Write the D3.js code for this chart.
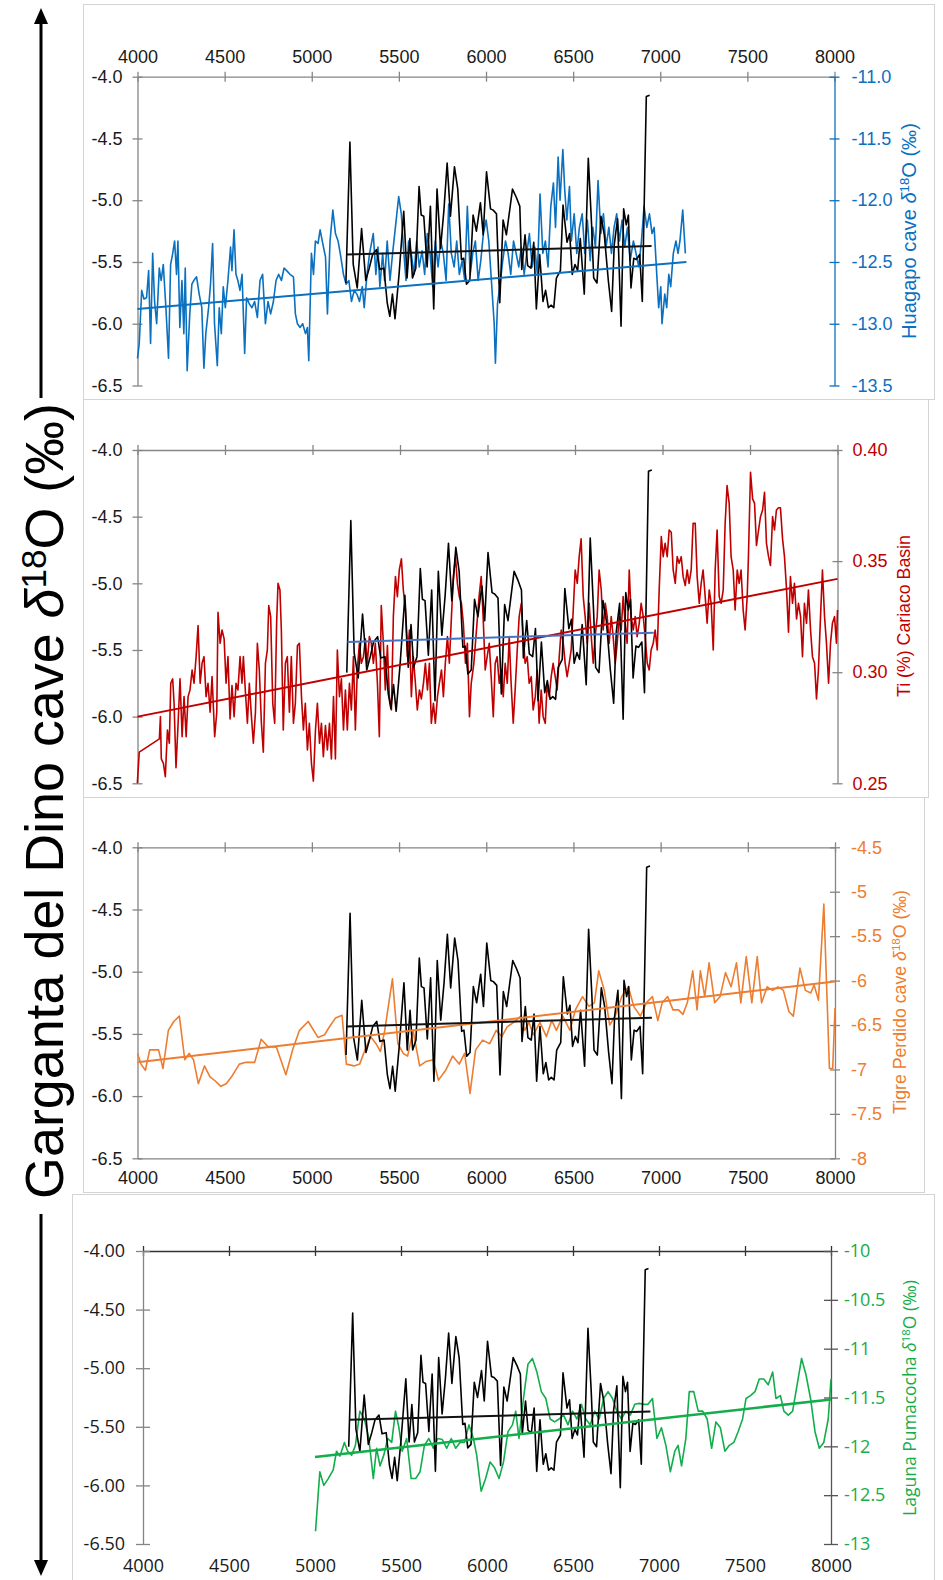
<!DOCTYPE html>
<html lang="en">
<head>
<meta charset="utf-8">
<script src="https://cdn.jsdelivr.net/npm/d3@7"></script>
<title>Garganta del Dino vs regional records</title>
<style>
  body { margin: 0; background: #fff; }
</style>
</head>
<body>
<div id="chart"></div>
<script>

// ---- axis ticks ----
const xTicks = [4000, 4500, 5000, 5500, 6000, 6500, 7000, 7500, 8000];
const leftTicks = [-4.0, -4.5, -5.0, -5.5, -6.0, -6.5];
const huagapoTicks = [-11.0, -11.5, -12.0, -12.5, -13.0, -13.5];
const cariacoTicks = [0.40, 0.35, 0.30, 0.25];
const tigreTicks = [-4.5, -5, -5.5, -6, -6.5, -7, -7.5, -8];
const pumacochaTicks = [-10, -10.5, -11, -11.5, -12, -12.5, -13];

// ---- Garganta del Dino cave d18O (yr BP, permil) ----
const garganta = [[5196,-5.67],[5219,-4.53],[5238,-5.52],[5261,-5.71],[5286,-5.23],[5310,-5.65],[5330,-5.55],[5349,-5.44],[5372,-5.40],[5390,-5.56],[5414,-5.55],[5433,-5.83],[5448,-5.94],[5463,-5.76],[5478,-5.96],[5501,-5.60],[5528,-5.09],[5547,-5.63],[5563,-5.31],[5578,-5.63],[5597,-5.55],[5616,-4.89],[5628,-5.12],[5643,-5.13],[5662,-5.54],[5681,-5.05],[5700,-5.88],[5719,-4.91],[5739,-5.39],[5758,-5.09],[5777,-4.70],[5796,-5.13],[5819,-4.73],[5838,-4.91],[5859,-5.48],[5872,-5.47],[5888,-5.68],[5907,-5.65],[5926,-5.12],[5945,-5.25],[5968,-5.02],[5984,-5.28],[6003,-4.77],[6026,-5.07],[6041,-5.08],[6060,-5.11],[6079,-5.83],[6098,-5.16],[6117,-5.28],[6152,-4.91],[6175,-4.98],[6194,-5.05],[6205,-5.56],[6224,-5.28],[6239,-5.53],[6258,-5.55],[6274,-5.34],[6289,-5.88],[6308,-5.44],[6327,-5.82],[6342,-5.73],[6358,-5.87],[6373,-5.85],[6389,-5.87],[6404,-5.63],[6427,-5.57],[6442,-5.04],[6465,-5.34],[6480,-5.27],[6495,-5.60],[6511,-5.52],[6526,-5.57],[6541,-5.31],[6564,-5.76],[6587,-4.66],[6606,-5.20],[6618,-5.63],[6637,-5.67],[6660,-5.13],[6679,-5.28],[6702,-5.65],[6721,-5.90],[6736,-5.36],[6755,-5.15],[6775,-6.02],[6790,-5.07],[6805,-5.20],[6817,-5.12],[6832,-5.71],[6848,-5.47],[6863,-5.48],[6882,-5.44],[6897,-5.82],[6920,-4.16],[6939,-4.15]];
const gargantaTrend = [[5200,-5.44],[6950,-5.37]];

// ---- Huagapo cave d18O ----
const huagapo = [[4000,-13.28],[4010,-13.16],[4024,-12.73],[4037,-12.80],[4052,-12.79],[4064,-12.57],[4075,-13.16],[4087,-12.43],[4098,-12.82],[4110,-13.00],[4125,-12.55],[4136,-12.65],[4148,-12.52],[4163,-12.87],[4178,-13.28],[4190,-12.52],[4201,-12.44],[4213,-12.33],[4224,-12.60],[4232,-12.33],[4243,-13.03],[4255,-12.65],[4266,-13.08],[4274,-12.55],[4285,-13.38],[4300,-12.92],[4312,-12.68],[4323,-12.65],[4339,-12.62],[4354,-12.76],[4369,-12.87],[4381,-13.36],[4392,-13.08],[4408,-12.87],[4419,-12.68],[4431,-12.35],[4442,-13.00],[4458,-13.34],[4469,-12.87],[4481,-13.08],[4492,-12.70],[4504,-12.87],[4519,-12.65],[4534,-12.38],[4542,-12.57],[4554,-12.24],[4565,-12.60],[4576,-12.65],[4588,-12.73],[4600,-12.60],[4615,-13.24],[4626,-12.79],[4642,-12.84],[4657,-12.87],[4672,-12.82],[4688,-12.95],[4703,-12.65],[4718,-12.60],[4734,-13.00],[4749,-12.82],[4764,-12.92],[4780,-12.82],[4795,-12.65],[4810,-12.60],[4826,-12.65],[4841,-12.55],[4856,-12.57],[4875,-12.60],[4895,-12.62],[4906,-12.92],[4918,-13.00],[4933,-13.03],[4948,-13.00],[4964,-13.08],[4975,-13.03],[4983,-13.30],[4998,-12.43],[5010,-12.60],[5021,-12.33],[5036,-12.35],[5048,-12.24],[5063,-12.35],[5079,-12.46],[5090,-12.92],[5105,-12.33],[5121,-12.08],[5136,-12.27],[5151,-12.33],[5167,-12.46],[5182,-12.60],[5197,-12.68],[5213,-12.65],[5228,-12.82],[5244,-12.73],[5259,-12.76],[5274,-12.82],[5290,-12.70],[5301,-12.87],[5317,-12.60],[5332,-12.43],[5353,-12.27],[5368,-12.60],[5380,-12.38],[5391,-12.70],[5407,-12.43],[5418,-12.65],[5433,-12.33],[5449,-12.65],[5464,-12.43],[5480,-12.22],[5499,-11.97],[5514,-12.11],[5526,-12.38],[5541,-12.65],[5556,-12.33],[5571,-12.43],[5587,-12.60],[5602,-12.33],[5617,-12.54],[5633,-12.41],[5648,-12.60],[5663,-12.27],[5679,-12.43],[5694,-12.70],[5709,-12.33],[5725,-12.54],[5740,-12.33],[5755,-12.43],[5771,-12.65],[5786,-12.03],[5801,-12.43],[5817,-12.54],[5832,-12.33],[5847,-12.60],[5863,-12.49],[5878,-12.65],[5893,-12.05],[5909,-12.60],[5924,-12.43],[5939,-12.33],[5955,-12.65],[5970,-12.49],[5985,-12.27],[6001,-12.16],[6016,-12.33],[6031,-12.65],[6047,-13.00],[6054,-13.32],[6066,-12.84],[6081,-12.68],[6096,-12.49],[6112,-12.33],[6127,-12.43],[6142,-12.60],[6158,-12.33],[6173,-12.43],[6188,-12.54],[6203,-12.38],[6219,-12.60],[6234,-12.43],[6249,-12.27],[6265,-12.54],[6280,-12.38],[6295,-12.60],[6310,-11.95],[6326,-12.43],[6341,-12.33],[6356,-12.54],[6372,-12.05],[6387,-11.86],[6399,-12.22],[6414,-11.65],[6425,-12.00],[6441,-11.59],[6452,-11.92],[6464,-12.16],[6479,-11.89],[6490,-12.33],[6506,-12.11],[6521,-12.43],[6536,-12.22],[6552,-12.11],[6567,-12.43],[6582,-12.16],[6598,-12.49],[6613,-12.22],[6628,-12.38],[6643,-11.84],[6659,-12.27],[6674,-12.11],[6689,-12.38],[6705,-12.22],[6720,-12.43],[6735,-12.22],[6750,-12.11],[6766,-12.33],[6781,-12.16],[6796,-12.38],[6812,-12.22],[6827,-12.49],[6846,-12.33],[6861,-12.43],[6877,-12.54],[6892,-12.33],[6907,-12.05],[6923,-12.22],[6938,-12.11],[6953,-12.27],[6965,-12.22],[6980,-12.60],[6991,-12.87],[7003,-12.70],[7010,-13.00],[7026,-12.76],[7037,-12.87],[7049,-12.60],[7060,-12.70],[7075,-12.43],[7090,-12.33],[7102,-12.43],[7113,-12.33],[7129,-12.08],[7144,-12.43]];
const huagapoTrend = [[4000,-12.88],[7150,-12.50]];

// ---- Cariaco Basin Ti (%) ----
const cariaco = [[3999,0.250],[4010,0.264],[4125,0.270],[4131,0.280],[4136,0.261],[4148,0.259],[4159,0.253],[4171,0.274],[4182,0.268],[4190,0.295],[4201,0.297],[4209,0.286],[4220,0.257],[4232,0.277],[4243,0.297],[4255,0.271],[4266,0.289],[4278,0.271],[4289,0.289],[4300,0.292],[4312,0.301],[4323,0.295],[4335,0.307],[4346,0.321],[4358,0.295],[4369,0.304],[4380,0.307],[4392,0.289],[4403,0.295],[4415,0.282],[4426,0.298],[4441,0.271],[4453,0.282],[4460,0.327],[4472,0.313],[4483,0.319],[4495,0.315],[4506,0.295],[4517,0.307],[4529,0.279],[4540,0.294],[4552,0.280],[4563,0.295],[4574,0.292],[4586,0.307],[4597,0.295],[4605,0.307],[4616,0.292],[4628,0.277],[4639,0.295],[4651,0.280],[4662,0.268],[4674,0.282],[4685,0.313],[4696,0.301],[4708,0.277],[4719,0.264],[4731,0.304],[4742,0.310],[4750,0.330],[4761,0.325],[4773,0.286],[4784,0.277],[4795,0.322],[4803,0.340],[4814,0.337],[4822,0.319],[4833,0.274],[4845,0.304],[4856,0.307],[4868,0.282],[4879,0.307],[4891,0.277],[4902,0.286],[4914,0.312],[4925,0.313],[4937,0.289],[4948,0.274],[4959,0.286],[4971,0.265],[4982,0.277],[4994,0.259],[5005,0.251],[5017,0.274],[5028,0.286],[5040,0.268],[5051,0.277],[5062,0.262],[5074,0.276],[5085,0.265],[5097,0.277],[5108,0.261],[5120,0.289],[5131,0.261],[5142,0.310],[5154,0.289],[5165,0.297],[5177,0.274],[5188,0.292],[5199,0.274],[5211,0.295],[5222,0.283],[5234,0.307],[5245,0.274],[5256,0.301],[5268,0.313],[5279,0.304],[5291,0.307],[5302,0.315],[5313,0.304],[5325,0.316],[5336,0.313],[5348,0.304],[5359,0.313],[5371,0.295],[5382,0.271],[5393,0.330],[5405,0.313],[5416,0.292],[5428,0.312],[5439,0.289],[5451,0.283],[5462,0.325],[5474,0.343],[5485,0.334],[5496,0.346],[5508,0.351],[5519,0.337],[5531,0.328],[5542,0.307],[5554,0.319],[5565,0.289],[5576,0.307],[5588,0.295],[5599,0.283],[5611,0.292],[5622,0.288],[5634,0.295],[5645,0.304],[5657,0.292],[5668,0.304],[5679,0.277],[5691,0.286],[5702,0.277],[5714,0.289],[5725,0.295],[5737,0.301],[5748,0.289],[5759,0.304],[5771,0.316],[5782,0.304],[5794,0.325],[5805,0.343],[5817,0.352],[5828,0.340],[5839,0.334],[5851,0.331],[5862,0.322],[5874,0.304],[5885,0.313],[5897,0.280],[5907,0.295],[5922,0.304],[5937,0.319],[5952,0.334],[5964,0.343],[5975,0.325],[5987,0.301],[5998,0.307],[6010,0.313],[6021,0.298],[6033,0.280],[6044,0.304],[6055,0.307],[6067,0.295],[6078,0.301],[6090,0.289],[6101,0.304],[6113,0.295],[6124,0.316],[6135,0.295],[6147,0.277],[6158,0.292],[6170,0.310],[6181,0.325],[6193,0.331],[6204,0.316],[6215,0.304],[6227,0.307],[6238,0.295],[6250,0.298],[6261,0.283],[6273,0.289],[6284,0.301],[6295,0.277],[6307,0.292],[6318,0.280],[6330,0.277],[6341,0.295],[6353,0.289],[6364,0.298],[6375,0.304],[6387,0.298],[6398,0.292],[6410,0.307],[6421,0.319],[6433,0.313],[6444,0.304],[6455,0.298],[6467,0.304],[6478,0.310],[6490,0.328],[6501,0.346],[6513,0.340],[6524,0.352],[6535,0.360],[6547,0.334],[6558,0.325],[6570,0.313],[6581,0.331],[6593,0.316],[6604,0.304],[6615,0.316],[6627,0.325],[6638,0.346],[6650,0.337],[6661,0.319],[6673,0.331],[6684,0.325],[6695,0.313],[6707,0.325],[6718,0.316],[6730,0.304],[6741,0.313],[6753,0.325],[6764,0.319],[6775,0.334],[6787,0.322],[6798,0.313],[6810,0.346],[6821,0.325],[6833,0.319],[6844,0.325],[6855,0.316],[6867,0.322],[6878,0.331],[6890,0.325],[6901,0.316],[6913,0.304],[6924,0.301],[6935,0.310],[6947,0.313],[6958,0.319],[6970,0.310],[6981,0.337],[6993,0.361],[7004,0.352],[7015,0.358],[7027,0.352],[7038,0.364],[7050,0.363],[7061,0.346],[7073,0.340],[7084,0.352],[7095,0.349],[7107,0.352],[7118,0.343],[7130,0.339],[7141,0.346],[7152,0.340],[7164,0.346],[7175,0.367],[7187,0.367],[7198,0.343],[7210,0.331],[7221,0.340],[7232,0.346],[7244,0.334],[7255,0.322],[7267,0.337],[7278,0.331],[7290,0.310],[7301,0.346],[7312,0.364],[7324,0.334],[7335,0.331],[7347,0.337],[7358,0.367],[7369,0.384],[7381,0.376],[7392,0.352],[7404,0.346],[7415,0.328],[7427,0.346],[7438,0.340],[7449,0.346],[7461,0.328],[7472,0.319],[7484,0.334],[7491,0.352],[7503,0.390],[7515,0.378],[7526,0.376],[7537,0.357],[7549,0.364],[7560,0.370],[7572,0.373],[7583,0.381],[7594,0.358],[7606,0.352],[7617,0.348],[7629,0.370],[7640,0.364],[7651,0.373],[7663,0.374],[7674,0.374],[7686,0.360],[7697,0.352],[7709,0.337],[7720,0.318],[7731,0.343],[7743,0.331],[7754,0.340],[7766,0.324],[7777,0.331],[7789,0.325],[7800,0.307],[7811,0.331],[7823,0.322],[7834,0.337],[7846,0.319],[7857,0.307],[7869,0.304],[7880,0.288],[7891,0.301],[7903,0.325],[7914,0.346],[7926,0.325],[7937,0.313],[7949,0.295],[7960,0.313],[7971,0.322],[7983,0.325],[7994,0.313],[8000,0.328]];
const cariacoTrend = [[4000,0.280],[8000,0.342]];

// ---- Tigre Perdido cave d18O ----
const tigre = [[4000,-6.82],[4020,-6.94],[4045,-7.01],[4070,-6.78],[4096,-6.78],[4121,-6.78],[4146,-6.99],[4177,-6.56],[4208,-6.46],[4240,-6.40],[4271,-6.89],[4296,-6.82],[4321,-6.89],[4349,-7.16],[4384,-6.96],[4415,-7.08],[4446,-7.13],[4478,-7.19],[4509,-7.16],[4540,-7.08],[4584,-6.94],[4622,-6.92],[4672,-6.92],[4709,-6.66],[4747,-6.74],[4797,-6.75],[4851,-7.06],[4891,-6.77],[4929,-6.56],[4979,-6.46],[5035,-6.64],[5073,-6.61],[5101,-6.52],[5136,-6.42],[5173,-6.39],[5198,-6.94],[5242,-6.96],[5274,-6.94],[5305,-6.78],[5336,-6.63],[5368,-6.71],[5393,-6.80],[5418,-6.56],[5462,-5.98],[5493,-6.71],[5524,-6.82],[5549,-6.85],[5580,-6.56],[5618,-6.96],[5655,-6.91],[5696,-6.89],[5726,-7.12],[5767,-7.01],[5807,-6.85],[5845,-6.94],[5876,-6.82],[5907,-7.27],[5939,-6.78],[5979,-6.67],[6020,-6.71],[6057,-6.56],[6089,-6.63],[6120,-6.52],[6157,-6.47],[6198,-6.40],[6220,-6.56],[6245,-6.47],[6270,-6.61],[6308,-6.47],[6345,-6.63],[6376,-6.45],[6402,-6.56],[6439,-6.40],[6480,-6.56],[6511,-6.33],[6552,-6.18],[6589,-6.29],[6620,-6.25],[6645,-5.89],[6677,-6.11],[6708,-6.50],[6739,-6.40],[6777,-6.18],[6815,-6.07],[6846,-6.29],[6884,-6.40],[6918,-6.25],[6953,-6.18],[6984,-6.45],[7009,-6.25],[7040,-6.18],[7071,-6.33],[7103,-6.33],[7128,-6.38],[7153,-6.25],[7184,-5.89],[7209,-6.33],[7228,-5.89],[7253,-6.18],[7278,-5.80],[7310,-6.25],[7341,-6.18],[7372,-5.91],[7404,-6.07],[7435,-5.80],[7460,-6.25],[7491,-5.73],[7523,-6.25],[7554,-5.73],[7579,-6.25],[7611,-6.07],[7642,-6.11],[7673,-6.07],[7704,-6.11],[7736,-6.35],[7761,-6.40],[7799,-5.86],[7830,-6.11],[7861,-6.14],[7880,-6.05],[7905,-6.22],[7936,-5.14],[7968,-6.99],[7987,-6.99],[8000,-6.31]];
const tigreTrend = [[4000,-6.92],[8000,-6.01]];

// ---- Laguna Pumacocha d18O ----
const pumacocha = [[5003,-12.87],[5028,-12.26],[5051,-12.40],[5077,-12.33],[5106,-12.24],[5125,-12.05],[5145,-12.10],[5171,-11.96],[5190,-12.05],[5213,-12.09],[5235,-11.99],[5261,-11.64],[5287,-11.72],[5313,-11.92],[5339,-12.33],[5358,-12.02],[5378,-12.20],[5400,-12.09],[5423,-11.92],[5446,-11.96],[5468,-11.64],[5488,-11.81],[5507,-12.05],[5533,-11.92],[5559,-12.33],[5585,-12.33],[5611,-12.26],[5636,-11.99],[5662,-11.92],[5688,-12.02],[5714,-11.92],[5740,-11.93],[5766,-12.02],[5792,-11.92],[5818,-12.02],[5843,-11.96],[5869,-11.96],[5895,-11.78],[5921,-11.92],[5940,-12.09],[5966,-12.46],[5992,-12.33],[6018,-12.16],[6044,-12.22],[6070,-12.33],[6096,-12.16],[6122,-11.85],[6148,-11.78],[6167,-11.64],[6186,-11.92],[6212,-11.51],[6238,-11.16],[6264,-11.10],[6290,-11.24],[6316,-11.44],[6342,-11.51],[6367,-11.72],[6393,-11.75],[6419,-11.72],[6445,-11.68],[6471,-11.78],[6497,-11.64],[6523,-11.72],[6549,-11.57],[6574,-11.72],[6600,-11.78],[6626,-11.64],[6652,-11.72],[6678,-11.51],[6704,-11.44],[6730,-11.51],[6755,-11.64],[6781,-11.72],[6807,-11.64],[6833,-11.68],[6859,-11.57],[6885,-11.56],[6910,-11.57],[6936,-11.57],[6962,-11.51],[6988,-11.92],[7014,-11.81],[7040,-11.99],[7066,-12.26],[7092,-12.05],[7111,-11.99],[7131,-12.20],[7156,-11.92],[7176,-11.44],[7202,-11.44],[7228,-11.64],[7254,-11.64],[7280,-11.72],[7306,-12.02],[7331,-11.75],[7357,-11.81],[7383,-12.05],[7409,-11.99],[7435,-11.96],[7460,-11.85],[7486,-11.72],[7506,-11.51],[7532,-11.48],[7558,-11.44],[7583,-11.31],[7609,-11.31],[7635,-11.37],[7661,-11.24],[7680,-11.51],[7706,-11.48],[7726,-11.64],[7752,-11.68],[7777,-11.64],[7803,-11.37],[7829,-11.10],[7855,-11.27],[7881,-11.51],[7907,-11.85],[7932,-12.02],[7958,-11.96],[7984,-11.72],[8000,-11.31]];
const pumacochaTrend = [[5000,-12.11],[8000,-11.52]];

// ---- drawing ----
const axisGray = "#858585";
const textDark = "#1a1a1a";
const arial = "'Liberation Sans', Arial, sans-serif";
const openSans = "'Open Sans', sans-serif";
// plain hyphen-minus like the spreadsheet output, not the unicode minus
const hy = f => d => f(d).replace("\u2212", "-");
const fmt1 = hy(d3.format(".1f")), fmt2 = hy(d3.format(".2f")), plain = d => String(d);

const svg = d3.select("#chart")
  .append("svg")
    .attr("width", 943)
    .attr("height", 1580);

function styleAxis(ax, lineColor, textColor, size, family) {
  ax.attr("font-size", null).attr("font-family", null);
  ax.select(".domain").attr("stroke", lineColor).attr("stroke-width", 1.3);
  ax.selectAll(".tick line").attr("stroke", lineColor).attr("stroke-width", 1.3);
  ax.selectAll(".tick text")
    .attr("fill", textColor)
    .attr("font-size", size)
    .attr("font-family", family);
}

// label pieces: [text, kind]  kind = "" | "i" | "sup" | "after"
function addParts(t, parts) {
  parts.forEach(([s, kind]) => {
    const ts = t.append("tspan").text(s);
    if (kind === "i") ts.attr("font-style", "italic");
    if (kind === "sup") ts.attr("font-size", "0.65em").attr("dy", "-0.5em");
    if (kind === "after") ts.attr("dy", "0.325em");
  });
}

function fit(t, target) {
  const fs = +t.attr("font-size");
  const len = t.node().getComputedTextLength();
  t.attr("font-size", fs * target / len);
}

function drawPanel(p) {
  const g = svg.append("g");

  g.append("rect")
    .attr("x", p.box[0] + 0.5).attr("y", p.box[1] + 0.5)
    .attr("width", p.box[2]).attr("height", p.box[3])
    .attr("fill", "none").attr("stroke", "#d4d4d4");

  const x = d3.scaleLinear().domain([4000, 8000]).range([p.left, p.right]);
  const yL = d3.scaleLinear().domain([-6.5, -4.0]).range([p.bottom, p.top]);
  const yR = d3.scaleLinear().domain(p.rightDomain).range([p.bottom, p.top]);

  // top x axis (labels only on the first panel)
  const topAx = g.append("g")
    .attr("transform", `translate(0,${p.top})`)
    .call(d3.axisTop(x).tickValues(xTicks).tickSize(5).tickSizeOuter(0).tickPadding(9)
      .tickFormat(p.xLabels === "top" ? d3.format("d") : () => ""));
  topAx.selectAll(".tick line").attr("y1", 5);
  styleAxis(topAx, p.topColor, textDark, p.fontSize, p.font);

  if (p.xLabels === "bottom") {
    const botAx = g.append("g")
      .attr("transform", `translate(0,${p.bottom})`)
      .call(d3.axisBottom(x).tickValues(xTicks).tickSize(0).tickSizeOuter(0)
        .tickPadding(p.bottomPad).tickFormat(d3.format("d")));
    styleAxis(botAx, axisGray, textDark, p.fontSize, p.font);
    if (!p.bottomLine) botAx.select(".domain").remove();
  }

  const leftAx = g.append("g")
    .attr("transform", `translate(${p.left},0)`)
    .call(d3.axisLeft(yL).tickValues(leftTicks).tickSize(p.tick).tickSizeOuter(0)
      .tickPadding(p.leftPad).tickFormat(p.leftFormat));
  leftAx.selectAll(".tick line").attr("x1", p.tick);
  styleAxis(leftAx, axisGray, textDark, p.fontSize, p.font);

  const rightAx = g.append("g")
    .attr("transform", `translate(${p.right},0)`)
    .call(d3.axisRight(yR).tickValues(p.rightTicks).tickSize(p.tick).tickSizeOuter(0)
      .tickPadding(p.rightPad).tickFormat(p.rightFormat));
  rightAx.selectAll(".tick line").attr("x1", -p.tick);
  styleAxis(rightAx, p.rightAxisColor, p.color, p.fontSize, p.font);

  const lineR = d3.line().x(d => x(d[0])).y(d => yR(d[1]));
  const lineL = d3.line().x(d => x(d[0])).y(d => yL(d[1]));

  g.append("path")
    .datum(p.series)
    .attr("fill", "none")
    .attr("stroke", p.color)
    .attr("stroke-width", 1.6)
    .attr("stroke-linejoin", "round")
    .attr("d", lineR);

  g.append("path")
    .datum(garganta)
    .attr("fill", "none")
    .attr("stroke", "#000")
    .attr("stroke-width", 1.6)
    .attr("stroke-linejoin", "round")
    .attr("d", lineL);

  g.append("path")
    .datum(p.trend)
    .attr("fill", "none")
    .attr("stroke", p.color)
    .attr("stroke-width", p.trendWidth)
    .attr("d", lineR);

  g.append("path")
    .datum(gargantaTrend)
    .attr("fill", "none")
    .attr("stroke", p.blackTrend)
    .attr("stroke-width", 2)
    .attr("d", lineL);

  const t = g.append("text")
    .attr("transform", `translate(${p.titleX},${p.titleY}) rotate(-90)`)
    .attr("text-anchor", "middle")
    .attr("fill", p.color)
    .attr("font-family", p.font)
    .attr("font-size", 18);
  addParts(t, p.title);
  fit(t, p.titleLen);
}

drawPanel({
  box: [83, 4, 851, 395], left: 137.5, right: 834.5, top: 76.7, bottom: 385.5,
  rightDomain: [-13.5, -11.0], rightTicks: huagapoTicks, rightFormat: fmt1, leftFormat: fmt1,
  xLabels: "top", topColor: axisGray, rightAxisColor: "#0a70c0",
  tick: 5, leftPad: 10, rightPad: 12,
  color: "#0a70c0", series: huagapo, trend: huagapoTrend, trendWidth: 2, blackTrend: "#111",
  font: arial, fontSize: 18,
  title: [["Huagapo cave ", ""], ["δ", "i"], ["18", "sup"], ["O (‰)", "after"]],
  titleX: 916, titleY: 231, titleLen: 216
});

drawPanel({
  box: [83, 399, 845, 398], left: 137.5, right: 837.5, top: 450, bottom: 783.3,
  rightDomain: [0.25, 0.40], rightTicks: cariacoTicks, rightFormat: fmt2, leftFormat: fmt1,
  xLabels: "none", topColor: axisGray, rightAxisColor: axisGray,
  tick: 5, leftPad: 10, rightPad: 10,
  color: "#c00000", series: cariaco, trend: cariacoTrend, trendWidth: 2, blackTrend: "#4472c4",
  font: arial, fontSize: 18,
  title: [["Ti (%) Cariaco Basin", ""]],
  titleX: 910, titleY: 616, titleLen: 162
});

drawPanel({
  box: [83, 797, 841, 395], left: 137.5, right: 835, top: 847.3, bottom: 1158.3,
  rightDomain: [-8, -4.5], rightTicks: tigreTicks, rightFormat: plain, leftFormat: fmt1,
  xLabels: "bottom", bottomLine: true, bottomPad: 13, topColor: axisGray, rightAxisColor: axisGray,
  tick: 5, leftPad: 10, rightPad: 11,
  color: "#ed7d31", series: tigre, trend: tigreTrend, trendWidth: 2, blackTrend: "#111",
  font: arial, fontSize: 18,
  title: [["Tigre Perdido cave ", ""], ["δ", "i"], ["18", "sup"], ["O (‰)", "after"]],
  titleX: 906, titleY: 1002, titleLen: 224
});

drawPanel({
  box: [72, 1194, 862, 392], left: 143, right: 831, top: 1251, bottom: 1544,
  rightDomain: [-13, -10], rightTicks: pumacochaTicks, rightFormat: plain, leftFormat: fmt2,
  xLabels: "bottom", bottomLine: false, bottomPad: 15, topColor: "#333", rightAxisColor: "#555",
  tick: 7, leftPad: 11, rightPad: 6,
  color: "#13ad4b", series: pumacocha, trend: pumacochaTrend, trendWidth: 2.6, blackTrend: "#111",
  font: openSans, fontSize: 18,
  title: [["Laguna Pumacocha ", ""], ["δ", "i"], ["18", "sup"], ["O (‰)", "after"]],
  titleX: 916, titleY: 1398, titleLen: 236
});

// ---- shared left label with arrows ----
const big = svg.append("text")
  .attr("transform", "translate(63,801) rotate(-90)")
  .attr("text-anchor", "middle")
  .attr("fill", "#000")
  .attr("font-family", arial)
  .attr("font-size", 50);
addParts(big, [["Garganta del Dino cave ", ""], ["δ", "i"], ["18", "sup"], ["O (‰)", "after"]]);
fit(big, 796);

svg.append("line")
  .attr("x1", 41).attr("x2", 41).attr("y1", 398).attr("y2", 22)
  .attr("stroke", "#000").attr("stroke-width", 3);
svg.append("path")
  .attr("d", "M41,8 L34,24 L48,24 Z")
  .attr("fill", "#000");

svg.append("line")
  .attr("x1", 41).attr("x2", 41).attr("y1", 1214).attr("y2", 1562)
  .attr("stroke", "#000").attr("stroke-width", 3);
svg.append("path")
  .attr("d", "M41,1576 L34,1560 L48,1560 Z")
  .attr("fill", "#000");

</script>
</body>
</html>
